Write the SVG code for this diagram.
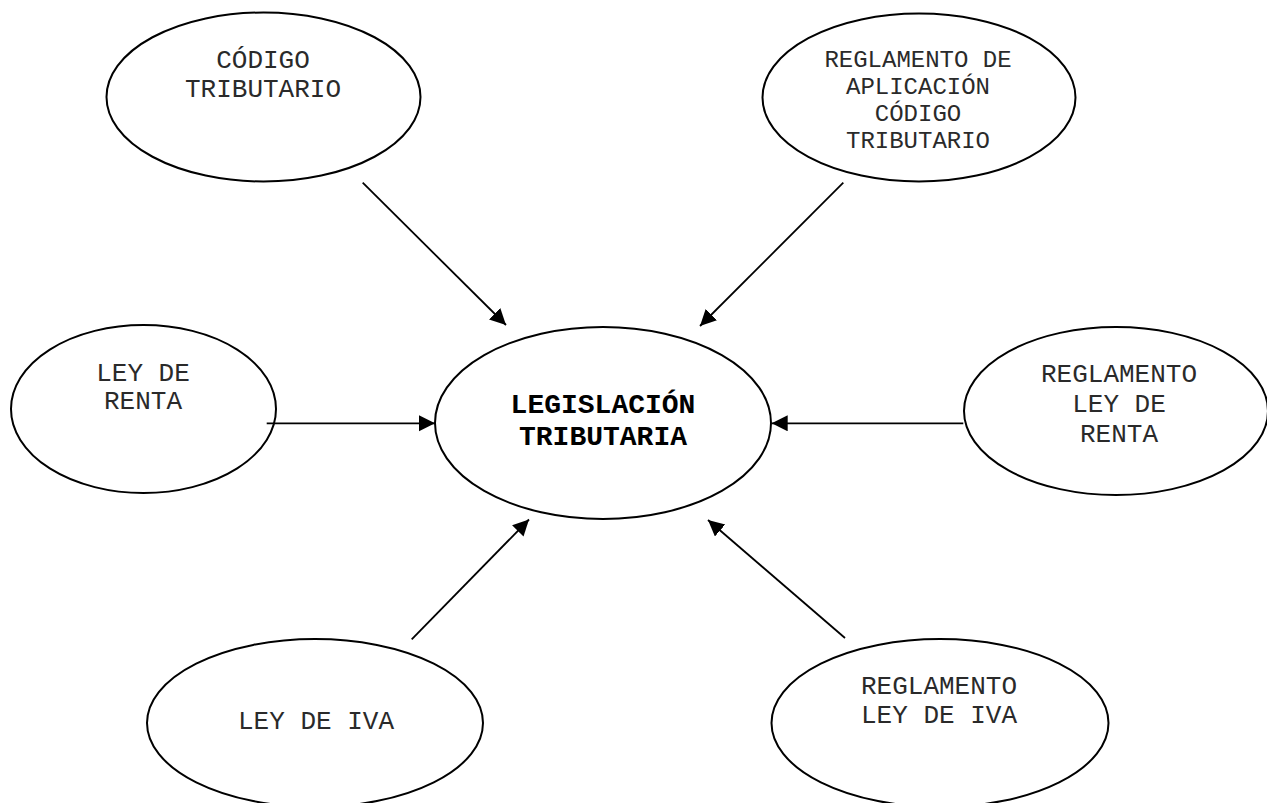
<svg xmlns="http://www.w3.org/2000/svg" width="1267" height="803" viewBox="0 0 1267 803">
<style>
.n ellipse{fill:#fff;stroke:#000;stroke-width:2}
.n text{font-family:"Liberation Mono","Courier New",monospace;fill:#2a2a2a;text-anchor:middle}
.c line{stroke:#000;stroke-width:1.8;fill:none}
</style>
<defs>
<marker id="ah" markerUnits="userSpaceOnUse" markerWidth="18" markerHeight="17" refX="16" refY="8" orient="auto">
<path d="M0,0 L16,8 L0,16 z" fill="#000"/>
</marker>
</defs>
<rect width="1267" height="803" fill="#fff"/>
<g id="n-codigo" class="n">
<ellipse cx="263.5" cy="97" rx="157" ry="84.5"/>
<text font-size="26"><tspan x="263" y="68">CÓDIGO</tspan><tspan x="263" y="97">TRIBUTARIO</tspan></text>
</g>
<g id="n-reglamento-aplicacion" class="n">
<ellipse cx="919" cy="97.5" rx="156.5" ry="84"/>
<text font-size="24"><tspan x="918" y="67">REGLAMENTO DE</tspan><tspan x="918" y="94">APLICACIÓN</tspan><tspan x="918" y="121">CÓDIGO</tspan><tspan x="918" y="148">TRIBUTARIO</tspan></text>
</g>
<g id="n-legislacion" class="n">
<ellipse cx="603" cy="423" rx="168" ry="96"/>
<text font-size="28" font-weight="bold" style="fill:#000"><tspan x="603" y="413">LEGISLACIÓN</tspan><tspan x="603" y="445">TRIBUTARIA</tspan></text>
</g>
<g id="n-ley-renta" class="n">
<ellipse cx="143.5" cy="409" rx="132.5" ry="84"/>
<text font-size="26"><tspan x="143" y="381">LEY DE</tspan><tspan x="143" y="409">RENTA</tspan></text>
</g>
<g id="n-reglamento-renta" class="n">
<ellipse cx="1116" cy="411" rx="152" ry="84"/>
<text font-size="26"><tspan x="1119" y="382">REGLAMENTO</tspan><tspan x="1119" y="412">LEY DE</tspan><tspan x="1119" y="442">RENTA</tspan></text>
</g>
<g id="n-ley-iva" class="n">
<ellipse cx="315" cy="723" rx="168" ry="84"/>
<text font-size="26"><tspan x="316" y="729">LEY DE IVA</tspan></text>
</g>
<g id="n-reglamento-iva" class="n">
<ellipse cx="940" cy="723" rx="168.5" ry="84"/>
<text font-size="26"><tspan x="939" y="694">REGLAMENTO</tspan><tspan x="939" y="723">LEY DE IVA</tspan></text>
</g>
<g id="connectors" class="c">
<line x1="362.7" y1="182.7" x2="506" y2="325" marker-end="url(#ah)"/>
<line x1="843.3" y1="182.7" x2="700" y2="326" marker-end="url(#ah)"/>
<line x1="266.7" y1="423.3" x2="435" y2="423.3" marker-end="url(#ah)"/>
<line x1="963.3" y1="423.3" x2="771.7" y2="423.3" marker-end="url(#ah)"/>
<line x1="411.7" y1="639.3" x2="529" y2="519.5" marker-end="url(#ah)"/>
<line x1="845" y1="638" x2="708" y2="520" marker-end="url(#ah)"/>
</g>
</svg>
